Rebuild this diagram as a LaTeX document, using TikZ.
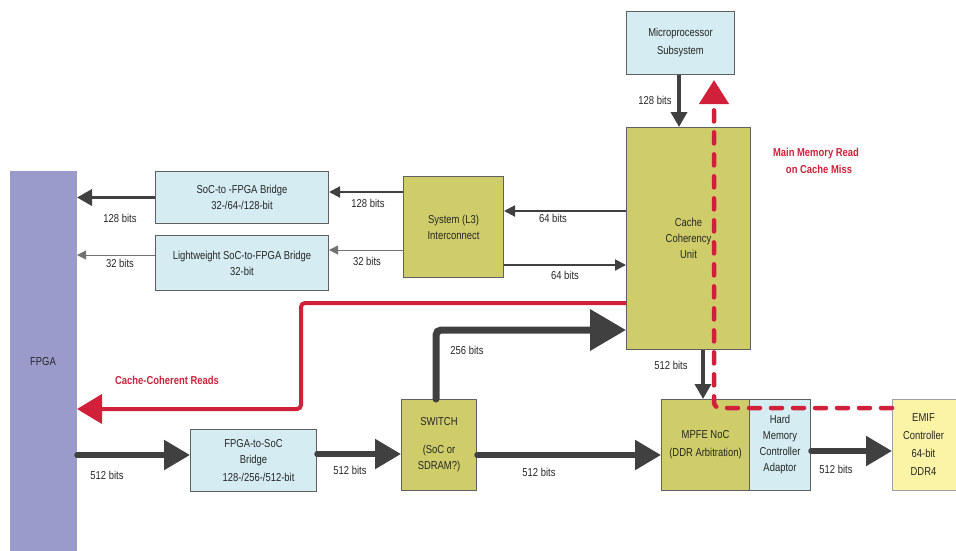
\documentclass[tikz,border=0pt]{standalone}
\usepackage{fontspec}
\setmainfont{Liberation Sans}[FakeStretch=0.82]
\usetikzlibrary{arrows.meta,calc}
\definecolor{dk}{HTML}{404040}
\definecolor{rd}{HTML}{D0203A}
\definecolor{lb}{HTML}{D4ECF2}
\definecolor{ol}{HTML}{CFCC6A}
\definecolor{lav}{HTML}{9B9BCB}
\definecolor{ye}{HTML}{FBF4A6}
\definecolor{bd}{HTML}{606060}
\begin{document}
\begin{tikzpicture}[x=1pt,y=-1pt,
  every node/.style={font=\fontsize{11.5}{16}\selectfont, text=black!85},
  box/.style={draw=bd, line width=1pt, anchor=north west, align=center, inner sep=0pt},
  blue/.style={box, fill=lb},
  olive/.style={box, fill=ol},
  lbl/.style={inner sep=0pt},
  rlbl/.style={inner sep=0pt, text=rd, font=\fontsize{11.5}{17}\selectfont\bfseries, align=center},
  thin/.style={draw=black!55, line width=1pt, -{Triangle[length=9pt,width=9pt]}},
  med/.style={draw=dk, line width=2pt, -{Triangle[length=11pt,width=11pt]}},
  semi/.style={draw=dk, line width=3.5pt, -{Triangle[length=15pt,width=16pt]}},
  fat/.style={draw=dk, line width=5.5pt, line cap=round, -{Triangle[length=26pt,width=29pt]}},
  fatter/.style={draw=dk, line width=7pt, line cap=round, rounded corners=5pt, -{Triangle[length=36pt,width=40pt]}},
  redl/.style={draw=rd, line width=4pt, rounded corners=4pt, -{Triangle[length=25pt,width=29pt]}},
  redd/.style={draw=rd, line width=4.5pt, line cap=round, rounded corners=6pt, dash pattern=on 11pt off 11pt, -{Triangle[length=24pt,width=29pt]}}
]
\useasboundingbox (0,0) rectangle (956,550);

% boxes
\node[box, fill=lav, draw=none, minimum width=67pt, minimum height=382pt] (fpga) at (9,170) {FPGA};
\node[blue, minimum width=173pt, minimum height=52pt] (soc) at (155,171) {SoC-to -FPGA Bridge\\32-/64-/128-bit};
\node[blue, minimum width=173pt, minimum height=55pt] (lw) at (155,235) {Lightweight SoC-to-FPGA Bridge\\32-bit};
\node[olive, minimum width=100pt, minimum height=101pt] (l3) at (403,176) {System (L3)\\Interconnect};
\node[olive, minimum width=124pt, minimum height=222pt] (ccu) at (626,127) {Cache\\Coherency\\Unit};
\node[blue, minimum width=108pt, minimum height=63pt] (mps) at (626,11) {Microprocessor\\[2pt]Subsystem};
\node[olive, minimum width=75pt, minimum height=91pt] (sw) at (401,399) {SWITCH\\[12pt](SoC or\\SDRAM?)};
\node[blue, minimum width=126pt, minimum height=62pt] (f2s) at (190,429) {FPGA-to-SoC\\Bridge\\[2pt]\hspace*{10pt}128-/256-/512-bit};
\node[olive, minimum width=88pt, minimum height=91pt] (mpfe) at (661,399) {MPFE NoC\\[2pt](DDR Arbitration)};
\node[blue, minimum width=61pt, minimum height=91pt] (hmca) at (749,399) {Hard\\Memory\\Controller\\Adaptor};
\node[box, fill=ye, draw=bd!60, minimum width=70pt, minimum height=91pt] (emif) at (892,399) {\hspace*{-8pt}EMIF\\[2pt]\hspace*{-8pt}Controller\\[2pt]\hspace*{-8pt}64-bit\\[2pt]\hspace*{-8pt}DDR4};

% labels
\node[lbl] (t1) at (120,218) {128 bits};
\node[lbl] (t2) at (368,203) {128 bits};
\node[lbl] (t3) at (120,263) {32 bits};
\node[lbl] (t4) at (367,261) {32 bits};
\node[lbl] (t5) at (553,218) {64 bits};
\node[lbl] (t6) at (565,275) {64 bits};
\node[lbl] (t7) at (655,100) {128 bits};
\node[lbl] (t8) at (467,350) {256 bits};
\node[lbl] (t9) at (671,365) {512 bits};
\node[lbl] (t10) at (107,475) {512 bits};
\node[lbl] (t11) at (350,470) {512 bits};
\node[lbl] (t12) at (539,472) {512 bits};
\node[lbl] (t13) at (836,469) {512 bits};
\node[rlbl] (r1) at (167,380) {Cache-Coherent Reads};
\node[rlbl] (r2) at (816,161) {Main Memory Read\\\hspace*{6pt}on Cache Miss};

% coordinates
\coordinate (a1) at ($(l3.north west)+(0,16)$);
\coordinate (a2) at ($(lw.north west)+(0,20)$);
\coordinate (a3) at ($(l3.north west)+(0,74)$);
\coordinate (a4) at ($(ccu.north west)+(0,84)$);
\coordinate (a5) at ($(l3.north east)+(0,89)$);
\coordinate (a6) at ($(mps.south west)+(53,0)$);
\coordinate (r0) at ($(ccu.north west)+(0,176)$);
\coordinate (rc1) at (301,303);
\coordinate (rc2) at (301,409);
\coordinate (s0) at ($(sw.north west)+(35,0)$);
\coordinate (sc) at (436,330);
\coordinate (c0) at ($(ccu.south west)+(77,0)$);
\coordinate (d0) at ($(emif.north west)+(0,9)$);
\coordinate (dc) at (714,408);
\coordinate (dt) at (714,80);
\coordinate (f0) at ($(f2s.north west)+(0,26)$);
\coordinate (g0) at ($(sw.north west)+(0,55)$);
\coordinate (h0) at ($(mpfe.north west)+(0,56)$);
\coordinate (k0) at ($(emif.north west)+(0,52)$);

% connectors
\draw[semi] (soc.west) -- (soc.west -| fpga.east);
\draw[med] (a1) -- (a1 -| soc.east);
\draw[thin] (lw.west |- a2) -- (a2 -| fpga.east);
\draw[thin] (a3) -- (a3 -| lw.east);
\draw[med] (a4) -- (a4 -| l3.east);
\draw[med] (a5) -- (a5 -| ccu.west);
\draw[semi] (a6) -- (a6 |- ccu.north);
\draw[redl] (r0) -- (rc1) -- (rc2) -- (rc2 -| fpga.east);
\draw[fatter] (s0) -- (sc) -- (sc -| ccu.west);
\draw[semi] (c0) -- (c0 |- mpfe.north);
\draw[redd] (d0) -- (dc) -- (dt);
\draw[fat] (f0 -| fpga.east) -- (f0);
\draw[fat] (f2s.east |- g0) -- (g0);
\draw[fat] (sw.east |- h0) -- (h0);
\draw[fat] (hmca.east |- k0) -- (k0);
\end{tikzpicture}
\end{document}
